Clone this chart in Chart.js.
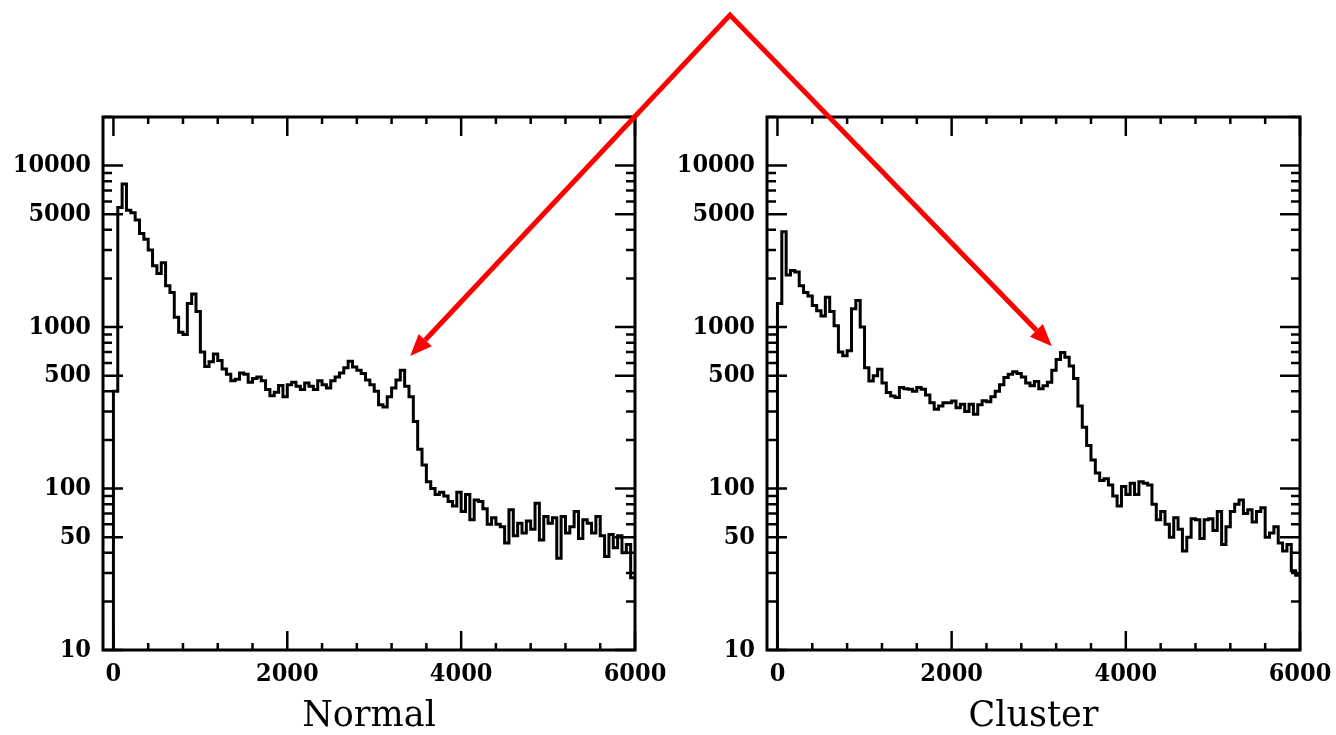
<!DOCTYPE html>
<html>
<head>
<meta charset="utf-8">
<script src="https://cdn.jsdelivr.net/npm/chart.js@4.4.1/dist/chart.umd.min.js"></script>
<style>
  html, body { margin: 0; padding: 0; background: #fff; }
  #wrap { position: relative; width: 1336px; height: 735px; overflow: hidden; }
  .panel { position: absolute; top: 0; }
  #arrows { position: absolute; left: 0; top: 0; pointer-events: none; }
</style>
</head>
<body>
<div id="wrap">
  <canvas id="normalChart" class="panel" style="left:0" width="700" height="735"></canvas>
  <canvas id="clusterChart" class="panel" style="left:636px" width="700" height="735"></canvas>
  <canvas id="arrows" width="1336" height="735"></canvas>
</div>
<script>
// histogram bins, 50 wide, starting at 0
const binWidth = 50;
const normalCounts = [
  400, 5500, 7700, 5300, 5100, 4600, 3800, 3500, 3000, 2400,
  2150, 2500, 1800, 1640, 1150, 930, 900, 1400, 1600, 1250,
  700, 570, 610, 680, 620, 550, 510, 465, 475, 520,
  510, 455, 480, 490, 465, 410, 375, 395, 435, 370,
  440, 455, 430, 410, 450, 430, 410, 465, 440, 420,
  465, 490, 520, 560, 615, 565, 540, 515, 470, 440,
  400, 330, 320, 370, 420, 470, 540, 430, 370, 260,
  175, 140, 110, 100, 92, 95, 90, 83, 78, 95,
  72, 92, 64, 85, 83, 75, 60, 66, 60, 58,
  46, 74, 51, 61, 53, 63, 56, 81, 48, 67,
  61, 66, 37, 67, 53, 58, 72, 49, 64, 61,
  53, 67, 51, 38, 52, 43, 51, 40, 45, 28,
];
const clusterCounts = [
  1400, 3900, 2100, 2240, 2190, 1800, 1640, 1560, 1360, 1260,
  1170, 1530, 1250, 1020, 700, 664, 713, 1300, 1460, 1000,
  560, 464, 500, 548, 450, 393, 374, 366, 422, 415,
  412, 400, 422, 412, 380, 340, 310, 325, 340, 340,
  349, 317, 333, 300, 333, 288, 330, 350, 345, 370,
  400, 440, 487, 511, 528, 515, 490, 450, 433, 460,
  415, 433, 455, 540, 630, 696, 650, 575, 480, 325,
  240, 185, 150, 125, 112, 115, 105, 90, 78, 103,
  92, 108, 92, 110, 108, 105, 80, 64, 72, 60,
  50, 66, 56, 41, 50, 65, 64, 49, 64, 65,
  55, 72, 45, 58, 72, 80, 85, 70, 74, 62,
  72, 76, 50, 53, 58, 46, 41, 45, 31, 29,
];
const xTickValues = [0, 400, 800, 1200, 1600, 2000, 2400, 2800, 3200, 3600, 4000, 4400, 4800, 5200, 5600, 6000];
const xLabelValues = [0, 2000, 4000, 6000];
const yTickValues = [
  10, 20, 30, 40, 50, 60, 70, 80, 90,
  100, 200, 300, 400, 500, 600, 700, 800, 900,
  1000, 2000, 3000, 4000, 5000, 6000, 7000, 8000, 9000,
  10000, 20000,
];
const yLabelValues = [10, 50, 100, 500, 1000, 5000, 10000];
// where the red arrows point (data coords)
const normalArrowTip = [3414, 661];
const clusterArrowTip = [3150, 762];

const tickFont = '"DejaVu Serif Condensed", "DejaVu Serif", serif';
const titleFont = '"DejaVu Serif", serif';

function histPoints(counts) {
  const pts = [{ x: 0, y: 1 }];
  counts.forEach((c, i) => pts.push({ x: i * binWidth, y: c }));
  pts.push({ x: counts.length * binWidth, y: counts[counts.length - 1] });
  return pts;
}

// frame + inward ticks on all four sides
const frameTicks = {
  id: 'frameTicks',
  afterDraw(chart) {
    const {
      ctx, chartArea: {
        left, right, top, bottom,
      }, scales: { x, y },
    } = chart;
    ctx.save();
    ctx.strokeStyle = '#000';
    ctx.lineWidth = 2.5;
    ctx.beginPath();
    xTickValues.forEach((v) => {
      const px = x.getPixelForValue(v);
      const len = xLabelValues.includes(v) ? 19 : 7;
      ctx.moveTo(px, bottom); ctx.lineTo(px, bottom - len);
      ctx.moveTo(px, top); ctx.lineTo(px, top + len);
    });
    yTickValues.forEach((v) => {
      const py = y.getPixelForValue(v);
      const len = yLabelValues.includes(v) ? 20 : 9;
      ctx.moveTo(left, py); ctx.lineTo(left + len, py);
      ctx.moveTo(right, py); ctx.lineTo(right - len, py);
    });
    ctx.stroke();
    ctx.lineWidth = 3;
    ctx.strokeRect(left, top, right - left, bottom - top);
    ctx.restore();
  },
};

function makeChart(id, counts, title, yWidth, padRight) {
  return new Chart(document.getElementById(id), {
    type: 'line',
    data: {
      datasets: [{
        data: histPoints(counts),
        stepped: 'before',
        borderColor: '#000',
        borderWidth: 3,
        pointRadius: 0,
        fill: false,
      }],
    },
    options: {
      responsive: false,
      animation: false,
      devicePixelRatio: 1,
      layout: { padding: { top: 117, right: padRight, left: 0, bottom: 0 } },
      plugins: { legend: { display: false }, tooltip: { enabled: false } },
      scales: {
        x: {
          type: 'linear',
          min: -120,
          max: 6000,
          afterBuildTicks: (scale) => { scale.ticks = xTickValues.map((v) => ({ value: v })); },
          afterFit: (scale) => {
            scale.height = 85;
            scale.paddingLeft = 0;
            scale.paddingRight = 0;
          },
          grid: { display: false },
          border: { display: false },
          ticks: {
            autoSkip: false,
            maxRotation: 0,
            padding: 1,
            color: '#000',
            font: { family: tickFont, size: 25, weight: 'bold' },
            callback: (v) => (xLabelValues.includes(v) ? String(v) : ''),
          },
          title: {
            display: true,
            text: title,
            color: '#000',
            padding: { top: 0, bottom: -3 },
            font: { family: titleFont, size: 35 },
          },
        },
        y: {
          type: 'logarithmic',
          min: 10,
          max: 20000,
          afterBuildTicks: (scale) => { scale.ticks = yTickValues.map((v) => ({ value: v })); },
          afterFit: (scale) => {
            scale.width = yWidth;
            scale.paddingTop = 0;
            scale.paddingBottom = 0;
          },
          grid: { display: false },
          border: { display: false },
          ticks: {
            autoSkip: false,
            padding: 4,
            color: '#000',
            font: { family: tickFont, size: 25, weight: 'bold' },
            callback: (v) => (yLabelValues.includes(v) ? String(v) : ''),
          },
        },
      },
    },
    plugins: [frameTicks],
  });
}

const normalChart = makeChart('normalChart', normalCounts, 'Normal', 103, 65);
const clusterChart = makeChart('clusterChart', clusterCounts, 'Cluster', 131, 36);

// red arrows from a common apex to the two peaks
function drawArrows() {
  const ctx = document.getElementById('arrows').getContext('2d');
  const apex = { x: 730, y: 15 };
  const tips = [
    [normalChart, 0, normalArrowTip],
    [clusterChart, 636, clusterArrowTip],
  ].map(([ch, off, [vx, vy]]) => ({
    x: off + ch.scales.x.getPixelForValue(vx),
    y: ch.scales.y.getPixelForValue(vy),
  }));
  const headLen = 22;
  const headHalf = 9;
  const bases = tips.map((t) => {
    const dx = t.x - apex.x;
    const dy = t.y - apex.y;
    const d = Math.hypot(dx, dy);
    return {
      x: t.x - (dx / d) * headLen, y: t.y - (dy / d) * headLen, ux: dx / d, uy: dy / d,
    };
  });
  ctx.strokeStyle = '#ff0000';
  ctx.fillStyle = '#ff0000';
  ctx.lineWidth = 5;
  ctx.lineJoin = 'miter';
  ctx.beginPath();
  ctx.moveTo(bases[0].x, bases[0].y);
  ctx.lineTo(apex.x, apex.y);
  ctx.lineTo(bases[1].x, bases[1].y);
  ctx.stroke();
  tips.forEach((t, i) => {
    const b = bases[i];
    ctx.beginPath();
    ctx.moveTo(t.x, t.y);
    ctx.lineTo(b.x - b.uy * headHalf, b.y + b.ux * headHalf);
    ctx.lineTo(b.x + b.uy * headHalf, b.y - b.ux * headHalf);
    ctx.closePath();
    ctx.fill();
  });
}
drawArrows();
</script>
</body>
</html>
